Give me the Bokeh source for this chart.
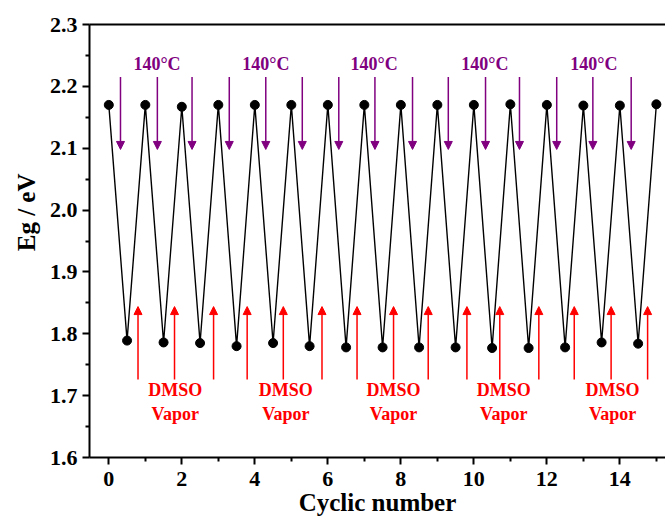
import numpy as np
from bokeh.plotting import figure
from bokeh.models import (Range1d, LinearAxis, FixedTicker, Arrow, NormalHead,
                          ColumnDataSource, PrintfTickFormatter, Title)
from bokeh.core.properties import value
from bokeh.embed import file_html
from bokeh.resources import INLINE

# ---- data ----
cycle = [0, 0.5, 1, 1.5, 2, 2.5, 3, 3.5, 4, 4.5, 5, 5.5, 6, 6.5, 7, 7.5,
         8, 8.5, 9, 9.5, 10, 10.5, 11, 11.5, 12, 12.5, 13, 13.5, 14, 14.5, 15]
eg = [2.170, 1.789, 2.170, 1.786, 2.167, 1.785, 2.170, 1.780, 2.170, 1.785,
      2.170, 1.780, 2.170, 1.778, 2.170, 1.778, 2.170, 1.778, 2.170, 1.778,
      2.170, 1.777, 2.171, 1.777, 2.170, 1.778, 2.169, 1.786, 2.169, 1.784, 2.171]

heat_arrow_x = [0.32, 1.33, 2.28, 3.3, 4.3, 5.3, 6.3, 7.29, 8.32, 9.30, 10.32, 11.25, 12.27, 13.26, 14.31]
vapor_arrow_x = [0.80, 1.80, 2.87, 3.79, 4.78, 5.84, 6.80, 7.80, 8.75, 9.81, 10.71, 11.78, 12.75, 13.76, 14.76]
heat_arrow_y = (2.215, 2.098)
vapor_arrow_y = (1.726, 1.844)

heat_label_x = [1.32, 4.3, 7.27, 10.3, 13.29]
heat_label_y = 2.236
heat_label = "140°C"
vapor_label_x = [1.82, 4.85, 7.8, 10.82, 13.8]
vapor_label_y = (1.709, 1.671)
vapor_label = ("DMSO", "Vapor")

x_ticks = [0, 2, 4, 6, 8, 10, 12, 14]
x_minor = [1, 3, 5, 7, 9, 11, 13, 15]
y_ticks = [1.6, 1.7, 1.8, 1.9, 2.0, 2.1, 2.2, 2.3]
y_minor = [1.65, 1.75, 1.85, 1.95, 2.05, 2.15, 2.25]

x_title = "Cyclic number"
y_title = "Eg / eV"

PURPLE = "#800080"
RED = "#FF0000"
FONT = "Liberation Serif"

p = figure(width=665, height=518, output_backend="svg", toolbar_location=None,
           x_range=Range1d(-0.529, 15.25), y_range=Range1d(1.6, 2.3),
           x_axis_location="below", y_axis_location="left",
           min_border_left=89, min_border_right=0, min_border_top=24, min_border_bottom=59)
p.outline_line_color = None
p.grid.visible = False
p.background_fill_color = "white"
p.border_fill_color = "white"

xax = p.below[0]
yax = p.left[0]
for ax in (xax, yax):
    ax.axis_line_width = 2
    ax.major_tick_line_width = 2
    ax.minor_tick_line_width = 2
    ax.major_tick_in = 0
    ax.major_tick_out = 7
    ax.minor_tick_in = 0
    ax.minor_tick_out = 4
    ax.major_label_text_font = FONT
    ax.major_label_text_font_style = "bold"
    ax.major_label_text_font_size = "22px"
    ax.major_label_text_color = "black"
    ax.axis_label_text_font = FONT
    ax.axis_label_text_font_style = "bold"
    ax.axis_label_text_font_size = "25px"
    ax.axis_label_text_color = "black"

xax.ticker = FixedTicker(ticks=x_ticks, minor_ticks=x_minor)
yax.ticker = FixedTicker(ticks=y_ticks, minor_ticks=y_minor)
yax.formatter = PrintfTickFormatter(format="%.1f")
xax.axis_label = x_title
xax.major_label_standoff = 7
xax.axis_label_standoff = 0
yax.major_label_standoff = 5

# y title as a left-side Title, anchored from the top so it sits above the frame centre
p.add_layout(Title(text=y_title, align="right", offset=149, standoff=14,
                   text_font=FONT, text_font_style="bold", text_font_size="25px",
                   text_color="black"), "left")

# top border line (no ticks, no labels)
top = LinearAxis(ticker=FixedTicker(ticks=[]), axis_line_width=2, axis_line_color="black",
                 major_tick_out=0, minor_tick_out=0, major_label_text_font_size="0px")
p.add_layout(top, "above")

src = ColumnDataSource(dict(x=cycle, y=eg))
p.line("x", "y", source=src, line_color="black", line_width=1.4)
p.scatter("x", "y", source=src, size=9, fill_color="black", line_color="black")

heat_src = ColumnDataSource(dict(x0=heat_arrow_x, x1=heat_arrow_x,
                                 y0=[heat_arrow_y[0]] * len(heat_arrow_x),
                                 y1=[heat_arrow_y[1]] * len(heat_arrow_x)))
p.add_layout(Arrow(end=NormalHead(size=8, fill_color=PURPLE, line_color=PURPLE),
                   x_start="x0", y_start="y0", x_end="x1", y_end="y1",
                   source=heat_src, line_color=PURPLE, line_width=1.5))

vap_src = ColumnDataSource(dict(x0=vapor_arrow_x, x1=vapor_arrow_x,
                                y0=[vapor_arrow_y[0]] * len(vapor_arrow_x),
                                y1=[vapor_arrow_y[1]] * len(vapor_arrow_x)))
p.add_layout(Arrow(end=NormalHead(size=8, fill_color=RED, line_color=RED),
                   x_start="x0", y_start="y0", x_end="x1", y_end="y1",
                   source=vap_src, line_color=RED, line_width=1.5))

p.text(x=heat_label_x, y=[heat_label_y] * len(heat_label_x), text=[heat_label] * len(heat_label_x),
       text_color=PURPLE, text_font=value(FONT), text_font_style="bold", text_font_size="18px",
       text_align="center", text_baseline="middle")
for yy, lab in zip(vapor_label_y, vapor_label):
    p.text(x=vapor_label_x, y=[yy] * len(vapor_label_x), text=[lab] * len(vapor_label_x),
           text_color=RED, text_font=value(FONT), text_font_style="bold", text_font_size="18px",
           text_align="center", text_baseline="middle")

open("out.html", "w").write(file_html(p, INLINE))
